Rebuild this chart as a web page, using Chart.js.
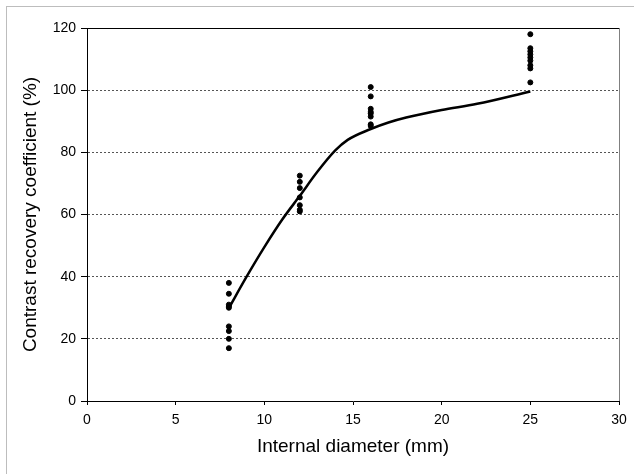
<!DOCTYPE html>
<html>
<head>
<meta charset="utf-8">
<script src="https://cdn.jsdelivr.net/npm/chart.js@4.4.0/dist/chart.umd.min.js"></script>
<style>
  html, body { margin: 0; padding: 0; background: #fff; }
  #wrap { position: relative; width: 634px; height: 474px; }
  #frame { position: absolute; left: 6px; top: 6px; right: 0; bottom: 0;
           border-left: 1px solid #bdbdbd; border-top: 1px solid #bdbdbd; pointer-events: none; }
</style>
</head>
<body>
<div id="wrap">
  <canvas id="crc" width="634" height="474"></canvas>
  <div id="frame"></div>
</div>
<script>
// measured recovery coefficients per sphere diameter (mm, %)
const diam8 = [38, 34.5, 31, 30.5, 30, 24, 22.5, 20, 17];
const diam12 = [72.5, 70.5, 68.5, 65.5, 63, 61.5, 61];
const diam16 = [101, 98, 94, 93, 92.5, 91.5, 89, 88.5];
const diam25 = [118, 113.5, 112.5, 111.5, 110.5, 109.5, 108, 107, 102.5];

// fitted curve
const curveX = [8, 9, 10, 11, 12, 13, 14, 14.7, 16, 17, 18, 20, 22, 25];
const curveY = [29.9, 40, 49.5, 58.3, 66, 73.8, 80.6, 84, 87.5, 89.6, 91.2, 93.6, 95.6, 99.6];

const toPoints = (x, ys) => ys.map(y => ({ x: x, y: y }));
const measured = [].concat(
  toPoints(8, diam8), toPoints(12, diam12), toPoints(16, diam16), toPoints(25, diam25)
);
const curve = curveX.map((x, i) => ({ x: x, y: curveY[i] }));

const boxPlugin = {
  id: 'box',
  afterDraw(chart) {
    const { ctx, chartArea: a } = chart;
    ctx.save();
    ctx.lineWidth = 1;
    ctx.strokeStyle = '#000';
    ctx.beginPath();
    ctx.moveTo(a.left, a.top + 0.5);
    ctx.lineTo(a.right, a.top + 0.5);
    ctx.stroke();
    ctx.strokeStyle = '#808080';
    ctx.beginPath();
    ctx.moveTo(a.right + 0.5, a.top);
    ctx.lineTo(a.right + 0.5, a.bottom);
    ctx.stroke();
    ctx.restore();
  }
};

const font = 'Liberation Sans, Arial, sans-serif';

const ctx = document.getElementById('crc').getContext('2d');
new Chart(ctx, {
  type: 'scatter',
  data: {
    datasets: [
      {
        label: 'fit',
        data: curve,
        showLine: true,
        borderColor: '#000',
        borderWidth: 2.5,
        pointRadius: 0,
        cubicInterpolationMode: 'monotone',
        order: 2
      },
      {
        label: 'measured',
        data: measured,
        backgroundColor: '#000',
        borderColor: '#000',
        pointRadius: 2.5,
        order: 1
      }
    ]
  },
  plugins: [boxPlugin],
  options: {
    responsive: false,
    animation: false,
    layout: { padding: { top: 28, right: 15, left: 19, bottom: 12 } },
    plugins: {
      legend: { display: false },
      tooltip: { enabled: false }
    },
    scales: {
      x: {
        type: 'linear',
        min: 0,
        max: 30,
        afterFit: (axis) => { axis.height = 61; },
        ticks: {
          stepSize: 5,
          color: '#000',
          padding: 7,
          font: { family: font, size: 14 }
        },
        grid: {
          drawOnChartArea: false,
          tickLength: 4,
          tickColor: '#000',
          color: '#000'
        },
        border: { color: '#000', width: 1 },
        title: {
          display: true,
          text: 'Internal diameter (mm)',
          color: '#000',
          padding: { top: 0, bottom: 4 },
          font: { family: font, size: 19 }
        }
      },
      y: {
        min: 0,
        max: 120,
        afterFit: (axis) => { axis.width = 68; },
        ticks: {
          stepSize: 20,
          color: '#000',
          padding: 5,
          font: { family: font, size: 14 }
        },
        grid: {
          tickLength: 6,
          tickColor: '#000',
          tickBorderDash: [],
          color: (c) => (c.tick && (c.tick.value === 0 || c.tick.value === 120)) ? 'rgba(0,0,0,0)' : '#555',
          lineWidth: 1
        },
        border: { color: '#000', width: 1, dash: [2, 2] },
        title: {
          display: true,
          text: 'Contrast recovery coefficient (%)',
          color: '#000',
          padding: { top: 0, bottom: 4 },
          font: { family: font, size: 19 }
        }
      }
    }
  }
});
</script>
</body>
</html>
